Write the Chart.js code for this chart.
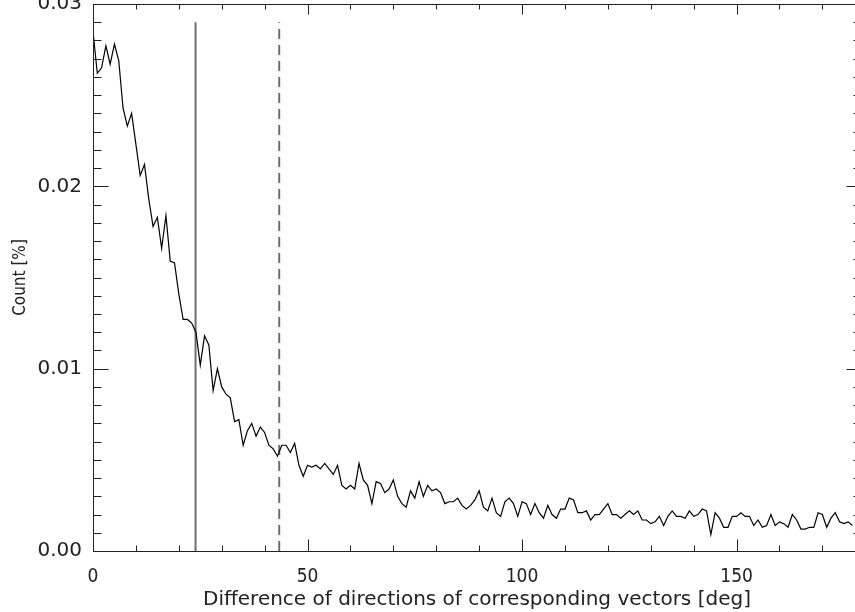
<!DOCTYPE html>
<html>
<head>
<meta charset="utf-8">
<script src="https://cdn.jsdelivr.net/npm/chart.js@4"></script>
<style>
  html, body { margin: 0; padding: 0; background: #fff; overflow: hidden; }
  #wrap { width: 862px; height: 612px; }
</style>
</head>
<body>
<div id="wrap"><canvas id="angleChart" width="862" height="612"></canvas></div>
<script>
// histogram of direction differences, 1 degree bins starting at 0 deg
const binWidth = 1;
const counts = [
  0.0285, 0.0262, 0.0265, 0.0277, 0.0267, 0.0278, 0.0269, 0.0243, 0.0233, 0.0240,
  0.0223, 0.0206, 0.0212, 0.0193, 0.0178, 0.0183, 0.0166, 0.0184, 0.0159, 0.0158,
  0.0141, 0.0127, 0.0127, 0.0125, 0.0120, 0.0102, 0.0118, 0.0113, 0.0088, 0.0100,
  0.0090, 0.0086, 0.0084, 0.0071, 0.0072, 0.0058, 0.0066, 0.0070, 0.0063, 0.0068,
  0.0065, 0.0058, 0.0056, 0.0052, 0.0058, 0.0058, 0.0054, 0.0059, 0.0047, 0.0041,
  0.0047, 0.0046, 0.0047, 0.0045, 0.0048, 0.0045, 0.0042, 0.0047, 0.0036, 0.0034,
  0.0036, 0.0034, 0.0048, 0.0039, 0.0036, 0.0026, 0.0038, 0.0037, 0.0032, 0.0034,
  0.0039, 0.0030, 0.0026, 0.0024, 0.0033, 0.0029, 0.0038, 0.0030, 0.0036, 0.0033,
  0.0034, 0.0032, 0.0026, 0.0027, 0.0027, 0.0029, 0.0025, 0.0023, 0.0025, 0.0028,
  0.0033, 0.0024, 0.0022, 0.0029, 0.0021, 0.0019, 0.0027, 0.0029, 0.0026, 0.0019,
  0.0027, 0.0026, 0.0020, 0.0026, 0.0021, 0.0018, 0.0025, 0.0020, 0.0018, 0.0023,
  0.0023, 0.0029, 0.0028, 0.0021, 0.0021, 0.0022, 0.0017, 0.0020, 0.0020, 0.0023,
  0.0026, 0.0020, 0.0020, 0.0018, 0.0020, 0.0022, 0.0020, 0.0022, 0.0017, 0.0017,
  0.0015, 0.0016, 0.0019, 0.0014, 0.0019, 0.0022, 0.0019, 0.0019, 0.0018, 0.0022,
  0.0019, 0.0020, 0.0023, 0.0022, 0.0009, 0.0021, 0.0018, 0.0013, 0.0013, 0.0019,
  0.0019, 0.0021, 0.0019, 0.0019, 0.0014, 0.0017, 0.0013, 0.0014, 0.0020, 0.0014,
  0.0016, 0.0015, 0.0013, 0.0020, 0.0017, 0.0012, 0.0012, 0.0013, 0.0013, 0.0021,
  0.0020, 0.0013, 0.0018, 0.0021, 0.0016, 0.0015, 0.0016, 0.0014
];

// reference angles marked with vertical lines
const solidMarker = 23.9;
const dashedMarker = 43.4;
const markerTop = 0.029;

// axis ranges and ticks
const xRange = [0, 179];
const yRange = [0, 0.03];
const xMajor = [0, 50, 100, 150];
const xMinorStep = 10;
const yMajorStep = 0.01;
const yMinorStep = 0.001;

const narrow = "'DejaVu Sans Condensed', 'DejaVu Sans', sans-serif";
const wide = "'DejaVu Sans', sans-serif";
Chart.defaults.font.family = narrow;
Chart.defaults.color = '#222';

// box around the plot with inward ticks on all four sides
const frameTicks = {
  id: 'frameTicks',
  afterDraw(chart) {
    const { ctx, chartArea: a, scales: { x, y } } = chart;
    ctx.save();
    ctx.strokeStyle = '#222';
    ctx.lineWidth = 1;
    const L = Math.round(a.left) + 0.5, R = Math.round(a.right) + 0.5;
    const T = Math.round(a.top) + 0.5, B = Math.round(a.bottom) + 0.5;
    ctx.strokeRect(L, T, R - L, B - T);
    ctx.beginPath();
    for (let v = xRange[0]; v <= xRange[1]; v += xMinorStep) {
      const px = Math.round(x.getPixelForValue(v)) + 0.5;
      const major = xMajor.includes(v);
      ctx.moveTo(px, B); ctx.lineTo(px, B - (major ? 12 : 6));
      ctx.moveTo(px, T); ctx.lineTo(px, T + (major ? 10 : 5));
    }
    const nMinor = Math.round((yRange[1] - yRange[0]) / yMinorStep);
    const perMajor = Math.round(yMajorStep / yMinorStep);
    for (let i = 0; i <= nMinor; i++) {
      const py = Math.round(y.getPixelForValue(yRange[0] + i * yMinorStep)) + 0.5;
      const major = i % perMajor === 0;
      ctx.moveTo(L, py); ctx.lineTo(L + (major ? 15 : 8), py);
      ctx.moveTo(R, py); ctx.lineTo(R - (major ? 15 : 8), py);
    }
    ctx.stroke();
    ctx.restore();
  }
};

new Chart(document.getElementById('angleChart'), {
  type: 'line',
  data: {
    datasets: [
      {
        data: counts.map((c, i) => ({ x: i * binWidth, y: c })),
        borderColor: '#000',
        borderWidth: 1.2,
        pointRadius: 0,
        tension: 0
      },
      {
        data: [{ x: solidMarker, y: yRange[0] }, { x: solidMarker, y: markerTop }],
        borderColor: '#6e6e6e',
        borderWidth: 2,
        pointRadius: 0
      },
      {
        data: [{ x: dashedMarker, y: yRange[0] }, { x: dashedMarker, y: markerTop }],
        borderColor: '#6e6e6e',
        borderWidth: 2,
        borderDash: [10, 6],
        pointRadius: 0
      }
    ]
  },
  options: {
    responsive: false,
    animation: false,
    events: [],
    layout: { padding: { left: 0, right: 1, top: 4, bottom: 0 } },
    plugins: { legend: { display: false }, tooltip: { enabled: false } },
    scales: {
      x: {
        type: 'linear',
        min: xRange[0],
        max: xRange[1],
        grid: { display: false, drawTicks: false },
        border: { display: false },
        ticks: {
          stepSize: 50,
          includeBounds: false,
          autoSkip: false,
          maxRotation: 0,
          padding: 15,
          font: { size: 19 }
        },
        title: {
          display: true,
          text: 'Difference of directions of corresponding vectors [deg]',
          font: { family: wide, size: 20 },
          padding: { top: 0, bottom: 0 }
        },
        afterFit: s => { s.height = 61; s.paddingLeft = 0; s.paddingRight = 0; }
      },
      y: {
        min: yRange[0],
        max: yRange[1],
        grid: { display: false, drawTicks: false },
        border: { display: false },
        ticks: {
          stepSize: yMajorStep,
          padding: 11,
          font: { family: wide, size: 20 },
          callback: v => v.toFixed(2)
        },
        title: {
          display: true,
          text: 'Count [%]',
          font: { size: 17 },
          padding: { top: 10, bottom: 0 }
        },
        afterFit: s => { s.width = 93; s.paddingTop = 0; s.paddingBottom = 0; }
      }
    }
  },
  plugins: [frameTicks]
});
</script>
</body>
</html>
